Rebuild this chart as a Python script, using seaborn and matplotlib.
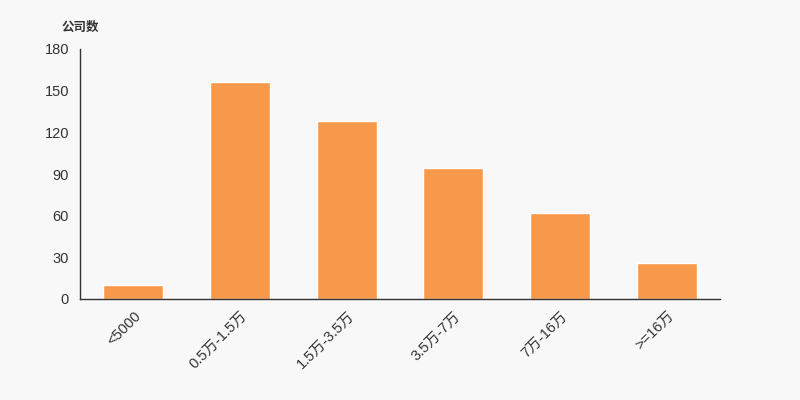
import pandas as pd
import matplotlib
matplotlib.use('Agg')
import matplotlib.pyplot as plt
from matplotlib.ticker import FixedLocator
import seaborn as sns

# Values
categories = ['<5000', '0.5万-1.5万', '1.5万-3.5万', '3.5万-7万', '7万-16万', '>=16万']
counts = [10, 156, 128, 94, 62, 26]
y_ticks = [0, 30, 60, 90, 120, 150, 180]

df = pd.DataFrame({'range': categories, 'count': counts})

sns.set_style('white')
plt.rcParams['font.family'] = ['Liberation Sans', 'Noto Sans CJK SC', 'DejaVu Sans']

fig = plt.figure(figsize=(8, 4), dpi=100, facecolor='#f8f8f8')
ax = fig.add_axes([0.1, 0.2525, 0.8, 0.625])
ax.set_facecolor('#f8f8f8')

sns.barplot(data=df, x='range', y='count', color='#f7994a', width=0.56,
            saturation=1, ax=ax)

ax.set_xlim(-0.5, len(categories) - 0.5)
ax.set_ylim(0, 180)
ax.set_yticks(y_ticks)
ax.set_xlabel('')
ax.set_ylabel('')

# ticks at category boundaries, labels at centres
ax.xaxis.set_minor_locator(FixedLocator([i - 0.5 for i in range(len(categories) + 1)]))
ax.tick_params(axis='x', which='major', length=0, pad=7)
ax.tick_params(axis='x', which='minor', length=5, width=1, color='#333333', direction='out')
ax.tick_params(axis='y', length=5, width=1, color='#333333', direction='out', pad=3)
for lbl in ax.get_xticklabels():
    lbl.set_rotation(45)
    lbl.set_ha('right')
    lbl.set_rotation_mode('anchor')
ax.tick_params(labelsize=10.5, labelcolor='#333333')

for side in ['top', 'right']:
    ax.spines[side].set_visible(False)
for side in ['left', 'bottom']:
    ax.spines[side].set_color('#333333')
    ax.spines[side].set_linewidth(1)

fig.text(0.1, 0.932, '公司数', ha='center', va='center', fontsize=9,
         fontweight='bold', color='#333333', family=['Noto Sans CJK SC'])

fig.savefig('out.png', dpi=100, facecolor=fig.get_facecolor())
